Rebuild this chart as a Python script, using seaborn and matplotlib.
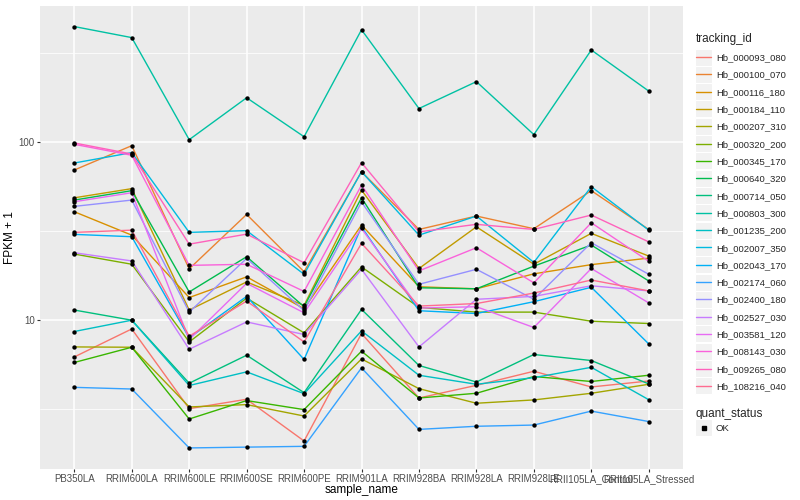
import numpy as np
import pandas as pd
import matplotlib
matplotlib.use('Agg')
import matplotlib.pyplot as plt
from matplotlib.lines import Line2D
from matplotlib.patches import Rectangle
from matplotlib.legend_handler import HandlerLine2D
from matplotlib.ticker import NullFormatter
import seaborn as sns

sns.set_theme(style='darkgrid')
plt.rcParams['font.family'] = ['Liberation Sans', 'DejaVu Sans']

samples = ['PB350LA', 'RRIM600LA', 'RRIM600LE', 'RRIM600SE', 'RRIM600PE', 'RRIM901LA',
           'RRIM928BA', 'RRIM928LA', 'RRIM928LE', 'RRII105LA_Control', 'RRII105LA_Stressed']

tracking_ids = ['Hb_000093_080', 'Hb_000100_070', 'Hb_000116_180', 'Hb_000184_110',
                'Hb_000207_310', 'Hb_000320_200', 'Hb_000345_170', 'Hb_000640_320',
                'Hb_000714_050', 'Hb_000803_300', 'Hb_001235_200', 'Hb_002007_350',
                'Hb_002043_170', 'Hb_002174_060', 'Hb_002400_180', 'Hb_002527_030',
                'Hb_003581_120', 'Hb_008143_030', 'Hb_009265_080', 'Hb_108216_040']

# ggplot hue palette, 20 levels
palette = ['#F8766D', '#EA8331', '#D89000', '#C09B00', '#A3A500', '#7CAE00', '#39B600',
           '#00BB4E', '#00BF7D', '#00C1A3', '#00BFC4', '#00BAE0', '#00B0F6', '#35A2FF',
           '#9590FF', '#C77CFF', '#E76BF3', '#FA62DB', '#FF62BC', '#FF6C91']

# FPKM + 1, one value per sample
hb_000093_080 = [6.22, 8.93, 3.19, 3.60, 2.10, 8.42, 3.66, 4.31, 5.17, 4.22, 4.56]
hb_000100_070 = [69.6, 95.3, 19.4, 39.2, 18.7, 68.1, 32.3, 38.4, 32.6, 53.3, 32.3]
hb_000116_180 = [40.6, 30.0, 13.4, 17.5, 11.6, 34.2, 15.4, 15.0, 18.2, 20.5, 22.3]
hb_000184_110 = [48.6, 54.7, 11.4, 16.4, 12.1, 53.7, 19.5, 33.4, 20.6, 30.7, 22.9]
hb_000207_310 = [7.08, 7.05, 3.26, 3.36, 2.90, 6.06, 4.13, 3.42, 3.57, 3.89, 4.37]
hb_000320_200 = [23.5, 20.6, 7.55, 13.3, 8.49, 19.9, 11.8, 11.1, 11.1, 9.87, 9.58]
hb_000345_170 = [5.79, 7.05, 2.79, 3.54, 3.15, 6.70, 3.66, 3.89, 4.83, 4.53, 4.91]
hb_000640_320 = [47.2, 53.3, 14.4, 22.7, 11.9, 48.6, 15.2, 15.0, 20.1, 26.4, 16.6]
hb_000714_050 = [11.4, 10.0, 4.43, 6.36, 3.92, 11.5, 5.57, 4.50, 6.42, 5.94, 4.39]
hb_000803_300 = [444, 385, 103, 177, 107, 426, 154, 218, 110, 328, 193]
hb_001235_200 = [8.64, 10.0, 4.30, 5.13, 3.87, 8.71, 4.91, 4.37, 4.76, 5.44, 3.58]
hb_002007_350 = [76.2, 87.1, 31.1, 31.8, 18.1, 68.1, 30.0, 38.4, 21.1, 56.1, 32.0]
hb_002043_170 = [30.3, 29.4, 7.96, 13.6, 6.02, 33.4, 11.3, 10.9, 12.7, 15.3, 7.36]
hb_002174_060 = [4.20, 4.11, 1.92, 1.94, 1.96, 5.40, 2.44, 2.54, 2.58, 3.09, 2.70]
hb_002400_180 = [43.5, 47.2, 11.1, 22.2, 11.3, 46.0, 15.9, 19.3, 13.1, 27.2, 18.1]
hb_002527_030 = [23.9, 21.5, 6.87, 9.78, 8.31, 19.3, 7.08, 13.1, 13.6, 15.6, 14.6]
hb_003581_120 = [46.2, 51.9, 7.79, 16.1, 11.0, 32.7, 11.7, 11.9, 9.10, 19.5, 12.5]
hb_008143_030 = [97.0, 84.2, 20.3, 20.6, 14.5, 57.3, 18.9, 25.5, 16.2, 35.2, 21.4]
hb_009265_080 = [98.7, 85.6, 26.7, 30.4, 21.0, 76.5, 31.3, 34.5, 32.3, 38.9, 27.5]
hb_108216_040 = [31.1, 32.0, 8.13, 12.8, 7.55, 27.0, 12.0, 12.4, 14.2, 16.8, 14.6]

series = [hb_000093_080, hb_000100_070, hb_000116_180, hb_000184_110, hb_000207_310,
          hb_000320_200, hb_000345_170, hb_000640_320, hb_000714_050, hb_000803_300,
          hb_001235_200, hb_002007_350, hb_002043_170, hb_002174_060, hb_002400_180,
          hb_002527_030, hb_003581_120, hb_008143_030, hb_009265_080, hb_108216_040]

df = pd.DataFrame([
    {'tracking_id': tid, 'sample_name': s, 'fpkm1': v, 'quant_status': 'OK'}
    for tid, vals in zip(tracking_ids, series)
    for s, v in zip(samples, vals)
])


class KeyHandler(HandlerLine2D):
    # ggplot style legend key: grey box behind the line
    def create_artists(self, legend, orig_handle, xdescent, ydescent, width, height,
                       fontsize, trans):
        arts = super().create_artists(legend, orig_handle, xdescent, ydescent, width,
                                      height, fontsize, trans)
        ex = 0.55 * fontsize
        box = Rectangle((-xdescent - 0.1 * fontsize, -ydescent - ex),
                        width + 0.2 * fontsize, height + 2 * ex,
                        facecolor='#F2F2F2', edgecolor='white', lw=0.8, transform=trans)
        return [box] + arts


fig, ax = plt.subplots(figsize=(8, 5), dpi=100)
fig.subplots_adjust(left=0.0498, right=0.854, top=0.989, bottom=0.062)

sns.lineplot(data=df, x='sample_name', y='fpkm1', hue='tracking_id', hue_order=tracking_ids,
             palette=palette, units='tracking_id', estimator=None, sort=False,
             linewidth=1.0, legend=False, ax=ax)
sns.scatterplot(data=df, x='sample_name', y='fpkm1', color='black', s=10, marker='o',
                linewidth=0, legend=False, ax=ax, zorder=3)

ax.set_yscale('log')
# ggplot-like 5% expansion in log space
lo, hi = np.log10(df.fpkm1.min()), np.log10(df.fpkm1.max())
pad = 0.05 * (hi - lo)
ax.set_ylim(10 ** (lo - pad), 10 ** (hi + pad))
ax.set_xlim(-0.6, len(samples) - 0.4)

ax.set_yticks([10, 100], labels=['10', '100'])
ax.set_yticks([10 ** 0.5, 10 ** 1.5, 10 ** 2.5], minor=True)
ax.yaxis.set_minor_formatter(NullFormatter())

ax.set_facecolor('#EBEBEB')
ax.grid(which='major', color='white', linewidth=1.1)
ax.grid(which='minor', axis='y', color='white', linewidth=0.55)
ax.grid(which='minor', axis='x', visible=False)
for sp in ax.spines.values():
    sp.set_visible(False)
ax.tick_params(which='major', length=2.5, width=0.8, color='#333333', labelsize=7,
               labelcolor='#4D4D4D', pad=1.2, bottom=True, left=True)
ax.tick_params(which='minor', length=0)

ax.set_xlabel('sample_name', fontsize=8.5, color='black', labelpad=0)
ax.set_ylabel('FPKM + 1', fontsize=8.5, color='black', labelpad=2)

handles = [Line2D([], [], color=c, lw=1.0) for c in palette]
leg1 = fig.legend(handles, tracking_ids, title='tracking_id', loc='upper left',
                  bbox_to_anchor=(0.870, 0.934), frameon=False, fontsize=6.8,
                  title_fontsize=8.5, handlelength=1.6, labelspacing=0.88,
                  alignment='left', handletextpad=0.5, borderaxespad=0, borderpad=0,
                  handler_map={Line2D: KeyHandler()})
ok_handle = [Line2D([], [], color='black', marker='s', markersize=3, lw=0)]
leg2 = fig.legend(ok_handle, ['OK'], title='quant_status', loc='upper left',
                  bbox_to_anchor=(0.870, 0.185), frameon=False, fontsize=6.8,
                  title_fontsize=8.5, handlelength=1.6, alignment='left',
                  handletextpad=0.5, borderaxespad=0, borderpad=0,
                  handler_map={Line2D: KeyHandler()})

plt.savefig('out.png', dpi=100)
